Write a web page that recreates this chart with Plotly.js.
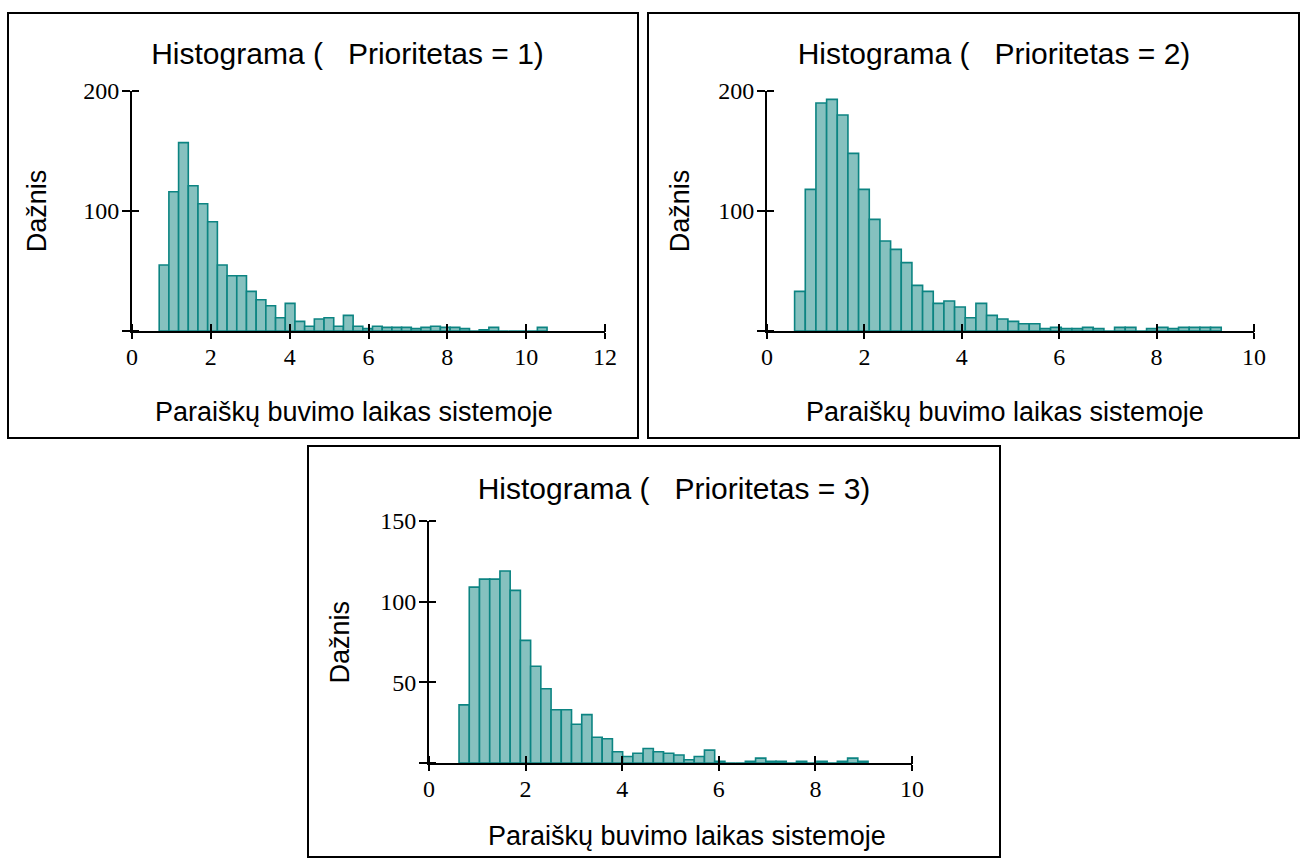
<!DOCTYPE html>
<html>
<head>
<meta charset="utf-8">
<script src="https://cdn.plot.ly/plotly-3.0.1.min.js"></script>
<style>
  html, body { margin: 0; padding: 0; background: #ffffff; }
  body { width: 1302px; height: 866px; position: relative; overflow: hidden; }
  .panel { position: absolute; box-sizing: border-box; border: 2px solid #000; background: #fff; }
  .plot { position: absolute; left: 0; top: 0; }
</style>
</head>
<body>
<div class="panel" id="box1" style="left:7px; top:12px; width:632px; height:427px;"><div class="plot" id="p1"></div></div>
<div class="panel" id="box2" style="left:647px; top:12px; width:653px; height:427px;"><div class="plot" id="p2"></div></div>
<div class="panel" id="box3" style="left:307px; top:445px; width:694px; height:413px;"><div class="plot" id="p3"></div></div>
<script>
// ---- Data ----
const titles = ["Histograma (\u00a0\u00a0 Prioritetas = 1)", "Histograma (\u00a0\u00a0 Prioritetas = 2)", "Histograma (\u00a0\u00a0 Prioritetas = 3)"];
const xLabel = "Paraiškų buvimo laikas sistemoje";
const yLabel = "Dažnis";

// Prioritetas = 1
const p1BinStart = 0.69;
const p1BinWidth = 0.246;
const p1Counts = [55,116,157,121,106,91,55,46,46,33,26,21,11,23,8,4,10,11,4,13,4,2,4,3,3,3,2,3,4,3,3,2,0,1,3,0,0,0,0,3];
const p1XTicks = [0,2,4,6,8,10,12];
const p1YTicks = [0,100,200];
const p1YTickText = ["","100","200"];

// Prioritetas = 2
const p2BinStart = 0.567;
const p2BinWidth = 0.219;
const p2Counts = [33,118,190,193,180,148,118,93,75,68,57,38,33,23,25,20,11,23,13,10,8,6,6,2,3,2,2,3,2,0,3,3,0,2,3,2,3,3,3,3];
const p2XTicks = [0,2,4,6,8,10];
const p2YTicks = [0,100,200];
const p2YTickText = ["","100","200"];

// Prioritetas = 3
const p3BinStart = 0.622;
const p3BinWidth = 0.2117;
const p3Counts = [36,109,114,114,119,107,76,60,46,33,33,24,30,16,15,7,4,6,9,7,6,5,2,4,8,1,0,0,1,3,1,1,0,1,0,1,0,1,3,1];
const p3XTicks = [0,2,4,6,8,10];
const p3YTicks = [0,50,100,150];
const p3YTickText = ["","50","100","150"];

// ---- Styling ----
const FILL = "#86C1BF";
const EDGE = "#0C8482";
const SANS = "Liberation Sans, Arial, sans-serif";
const SERIF = "Liberation Serif, Times New Roman, serif";

function centers(start, width, n) {
  const c = [];
  for (let i = 0; i < n; i++) c.push(start + (i + 0.5) * width);
  return c;
}

function draw(id, cfg) {
  const W = cfg.w, H = cfg.h;
  const xc = centers(cfg.start, cfg.width, cfg.counts.length);
  const bars = {
    type: "bar", x: xc, y: cfg.counts, width: cfg.width,
    marker: { color: FILL, line: { color: EDGE, width: 1.6 } },
    hoverinfo: "x+y", showlegend: false
  };
  // invisible copy on the helper axes so they are laid out
  const ghost = {
    type: "bar", x: xc, y: cfg.counts, width: cfg.width,
    xaxis: "x2", yaxis: "y2", opacity: 0,
    marker: { color: "rgba(0,0,0,0)", line: { width: 0 } },
    showlegend: false, hoverinfo: "skip"
  };
  const common = { showgrid: false, zeroline: false, fixedrange: true };
  const xin = 8, yin = 7;   // inner half of the crossing ticks (px)
  const layout = {
    width: W, height: H,
    margin: { l: cfg.ml, r: W - cfg.ml - cfg.pw, t: cfg.mt, b: H - cfg.mt - cfg.ph, pad: 0 },
    paper_bgcolor: "rgba(0,0,0,0)", plot_bgcolor: "rgba(0,0,0,0)",
    showlegend: false, bargap: 0,
    title: {
      text: cfg.title, font: { family: SANS, size: 30, color: "#000" },
      xref: "container", yref: "container",
      x: cfg.titleX / W, xanchor: "center", y: 1 - cfg.titleY / H, yanchor: "middle"
    },
    xaxis: Object.assign({}, common, {
      range: [0, cfg.xmax],
      tickmode: "array", tickvals: cfg.xticks, ticktext: cfg.xticks.map(String),
      ticks: "outside", ticklen: 6, tickwidth: 2, tickcolor: "#000",
      showline: true, linewidth: 2, linecolor: "#000",
      tickfont: { family: SERIF, size: 24, color: "#000" },
      ticklabelstandoff: -3
    }),
    yaxis: Object.assign({}, common, {
      range: [0, cfg.ymax],
      tickmode: "array", tickvals: cfg.yticks, ticktext: cfg.yticktext,
      ticks: "outside", ticklen: 8, tickwidth: 2, tickcolor: "#000",
      showline: true, linewidth: 2, linecolor: "#000",
      tickfont: { family: SERIF, size: 24, color: "#000" },
      ticklabelstandoff: -2
    }),
    // helper axes shifted into the plot: their outward ticks form the inner half of each crossing tick
    xaxis2: Object.assign({}, common, {
      overlaying: "x", anchor: "free", side: "bottom", position: xin / cfg.ph,
      range: [0, cfg.xmax],
      tickmode: "array", tickvals: cfg.xticks,
      ticks: "outside", ticklen: xin, tickwidth: 2, tickcolor: "#000",
      showticklabels: false, showline: false
    }),
    yaxis2: Object.assign({}, common, {
      overlaying: "y", anchor: "free", side: "left", position: yin / cfg.pw,
      range: [0, cfg.ymax],
      tickmode: "array", tickvals: cfg.yticks,
      ticks: "outside", ticklen: yin, tickwidth: 2, tickcolor: "#000",
      showticklabels: false, showline: false
    }),
    annotations: [
      { text: xLabel, xref: "paper", yref: "paper",
        x: (cfg.xlabX - cfg.ml) / cfg.pw, y: 1 - (cfg.xlabY - cfg.mt) / cfg.ph,
        xanchor: "center", yanchor: "middle", showarrow: false,
        font: { family: SANS, size: 27, color: "#000" } },
      { text: yLabel, xref: "paper", yref: "paper", textangle: -90,
        x: (cfg.ylabX - cfg.ml) / cfg.pw, y: 0.5,
        xanchor: "center", yanchor: "middle", showarrow: false,
        font: { family: SANS, size: 27, color: "#000" } }
    ]
  };
  Plotly.newPlot(id, [bars, ghost], layout, { staticPlot: true, displayModeBar: false });
}

draw("p1", {
  w: 628, h: 423, ml: 122.7, pw: 473.3, mt: 76.7, ph: 240,
  start: p1BinStart, width: p1BinWidth, counts: p1Counts,
  xmax: 12, ymax: 200, xticks: p1XTicks, yticks: p1YTicks, yticktext: p1YTickText,
  title: titles[0], titleX: 338.5, titleY: 39, xlabX: 344.5, xlabY: 398, ylabX: 28
});
draw("p2", {
  w: 649, h: 423, ml: 117.7, pw: 487.3, mt: 76.7, ph: 240,
  start: p2BinStart, width: p2BinWidth, counts: p2Counts,
  xmax: 10, ymax: 200, xticks: p2XTicks, yticks: p2YTicks, yticktext: p2YTickText,
  title: titles[1], titleX: 345, titleY: 39, xlabX: 356, xlabY: 398, ylabX: 31
});
draw("p3", {
  w: 690, h: 409, ml: 120.3, pw: 482.4, mt: 74.3, ph: 242,
  start: p3BinStart, width: p3BinWidth, counts: p3Counts,
  xmax: 10, ymax: 150, xticks: p3XTicks, yticks: p3YTicks, yticktext: p3YTickText,
  title: titles[2], titleX: 365, titleY: 41, xlabX: 378, xlabY: 389, ylabX: 31
});
</script>
</body>
</html>
